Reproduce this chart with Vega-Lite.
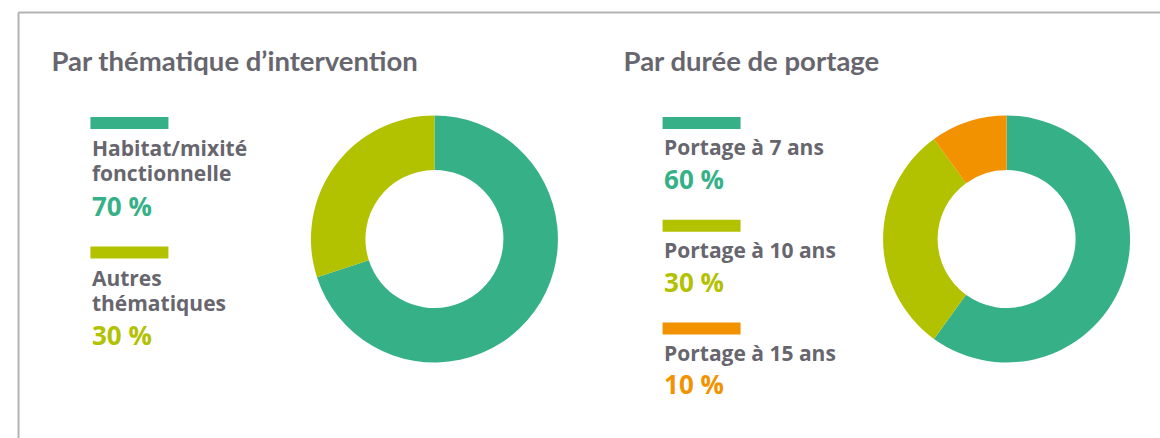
{
  "$schema": "https://vega.github.io/schema/vega-lite/v6.json",
  "autosize": {"type": "none"},
  "padding": {"left": 18, "top": 12, "right": 0, "bottom": 0},
  "width": 1142,
  "height": 426,
  "background": "#ffffff",
  "config": {"view": {"stroke": null}},
  "datasets": {
    "slices": [
      {"panel": "thematique", "category": "Habitat/mixité fonctionnelle", "rank": 1, "value": 70, "pct": "70 %"},
      {"panel": "thematique", "category": "Autres thématiques", "rank": 2, "value": 30, "pct": "30 %"},
      {"panel": "duree", "category": "Portage à 7 ans", "rank": 1, "value": 60, "pct": "60 %"},
      {"panel": "duree", "category": "Portage à 10 ans", "rank": 2, "value": 30, "pct": "30 %"},
      {"panel": "duree", "category": "Portage à 15 ans", "rank": 3, "value": 10, "pct": "10 %"}
    ],
    "titles": [
      {"panel": "thematique", "title": "Par thématique d’intervention"},
      {"panel": "duree", "title": "Par durée de portage"}
    ]
  },
  "resolve": {"scale": {"y": "independent"}, "axis": {"y": "independent"}},
  "layer": [
    {
      "data": {"name": "titles"},
      "mark": {"type": "text", "align": "left", "baseline": "alphabetic", "font": "Lato", "fontWeight": "bold", "fontSize": 27.5, "color": "#67666e", "xOffset": -251.5, "yOffset": -154},
      "encoding": {
        "x": {"field": "panel", "type": "nominal", "scale": {"type": "point", "domain": ["thematique", "duree"], "padding": 0.498}, "axis": {"orient": "top", "domain": true, "domainColor": "#b3b3b3", "domainWidth": 2, "labels": false, "ticks": false, "grid": false, "title": null}},
        "text": {"field": "title"}
      }
    },
    {
      "data": {"name": "slices"},
      "transform": [{"filter": "datum.panel == 'thematique'"}],
      "mark": {"type": "arc", "outerRadius": 123.5, "innerRadius": 69, "xOffset": 131.5, "yOffset": 14},
      "encoding": {
        "x": {"field": "panel", "type": "nominal", "scale": {"type": "point", "domain": ["thematique", "duree"], "padding": 0.498}, "axis": {"orient": "top", "domain": true, "domainColor": "#b3b3b3", "domainWidth": 2, "labels": false, "ticks": false, "grid": false, "title": null}},
        "theta": {"field": "value", "type": "quantitative", "stack": true},
        "order": {"field": "rank", "type": "quantitative"},
        "color": {"field": "category", "type": "nominal", "legend": null, "scale": {"domain": ["Habitat/mixité fonctionnelle", "Autres thématiques", "Portage à 7 ans", "Portage à 10 ans", "Portage à 15 ans"], "range": ["#36b187", "#b2c100", "#36b187", "#b2c100", "#f39200"]}}
      }
    },
    {
      "data": {"name": "slices"},
      "transform": [{"filter": "datum.panel == 'duree'"}],
      "mark": {"type": "arc", "outerRadius": 123.5, "innerRadius": 69, "xOffset": 131.5, "yOffset": 14},
      "encoding": {
        "x": {"field": "panel", "type": "nominal", "scale": {"type": "point", "domain": ["thematique", "duree"], "padding": 0.498}, "axis": {"orient": "top", "domain": true, "domainColor": "#b3b3b3", "domainWidth": 2, "labels": false, "ticks": false, "grid": false, "title": null}},
        "theta": {"field": "value", "type": "quantitative", "stack": true},
        "order": {"field": "rank", "type": "quantitative"},
        "color": {"field": "category", "type": "nominal", "legend": null}
      }
    },
    {
      "data": {"name": "slices"},
      "transform": [{"filter": "datum.panel == 'thematique'"}],
      "mark": {"type": "point", "shape": "M-39,-6H39V6H-39Z", "size": 4, "filled": true, "opacity": 1, "strokeWidth": 0, "xOffset": -173.5},
      "encoding": {
        "x": {"field": "panel", "type": "nominal", "scale": {"type": "point", "domain": ["thematique", "duree"], "padding": 0.498}, "axis": {"orient": "top", "domain": true, "domainColor": "#b3b3b3", "domainWidth": 2, "labels": false, "ticks": false, "grid": false, "title": null}},
        "y": {"field": "rank", "type": "quantitative", "scale": {"domain": [0.1429, 3.4325], "reverse": true, "nice": false, "zero": false}, "axis": {"orient": "left", "domain": true, "domainColor": "#b3b3b3", "domainWidth": 2, "labels": false, "ticks": false, "grid": false, "title": null}},
        "color": {"field": "category", "type": "nominal", "legend": null}
      }
    },
    {
      "data": {"name": "slices"},
      "transform": [{"filter": "datum.panel == 'thematique'"}],
      "mark": {"type": "text", "align": "left", "baseline": "alphabetic", "font": "Open Sans", "fontWeight": "bold", "fontSize": 21, "lineBreak": " ", "lineHeight": 25, "color": "#67666e", "xOffset": -211, "yOffset": 33.5},
      "encoding": {
        "x": {"field": "panel", "type": "nominal", "scale": {"type": "point", "domain": ["thematique", "duree"], "padding": 0.498}, "axis": {"orient": "top", "domain": true, "domainColor": "#b3b3b3", "domainWidth": 2, "labels": false, "ticks": false, "grid": false, "title": null}},
        "y": {"field": "rank", "type": "quantitative", "scale": {"domain": [0.1429, 3.4325], "reverse": true, "nice": false, "zero": false}, "axis": null},
        "text": {"field": "category"}
      }
    },
    {
      "data": {"name": "slices"},
      "transform": [{"filter": "datum.panel == 'thematique'"}],
      "mark": {"type": "text", "align": "left", "baseline": "alphabetic", "font": "Open Sans", "fontWeight": "bold", "fontSize": 26, "xOffset": -211, "yOffset": 93},
      "encoding": {
        "x": {"field": "panel", "type": "nominal", "scale": {"type": "point", "domain": ["thematique", "duree"], "padding": 0.498}, "axis": {"orient": "top", "domain": true, "domainColor": "#b3b3b3", "domainWidth": 2, "labels": false, "ticks": false, "grid": false, "title": null}},
        "y": {"field": "rank", "type": "quantitative", "scale": {"domain": [0.1429, 3.4325], "reverse": true, "nice": false, "zero": false}, "axis": null},
        "text": {"field": "pct"},
        "color": {"field": "category", "type": "nominal", "legend": null}
      }
    },
    {
      "data": {"name": "slices"},
      "transform": [{"filter": "datum.panel == 'duree'"}],
      "mark": {"type": "point", "shape": "M-39,-6H39V6H-39Z", "size": 4, "filled": true, "opacity": 1, "strokeWidth": 0, "xOffset": -173.5},
      "encoding": {
        "x": {"field": "panel", "type": "nominal", "scale": {"type": "point", "domain": ["thematique", "duree"], "padding": 0.498}, "axis": {"orient": "top", "domain": true, "domainColor": "#b3b3b3", "domainWidth": 2, "labels": false, "ticks": false, "grid": false, "title": null}},
        "y": {"field": "rank", "type": "quantitative", "scale": {"domain": [-0.0803, 4.066], "reverse": true, "nice": false, "zero": false}, "axis": null},
        "color": {"field": "category", "type": "nominal", "legend": null}
      }
    },
    {
      "data": {"name": "slices"},
      "transform": [{"filter": "datum.panel == 'duree'"}],
      "mark": {"type": "text", "align": "left", "baseline": "alphabetic", "font": "Open Sans", "fontWeight": "bold", "fontSize": 21, "color": "#67666e", "xOffset": -211, "yOffset": 32.5},
      "encoding": {
        "x": {"field": "panel", "type": "nominal", "scale": {"type": "point", "domain": ["thematique", "duree"], "padding": 0.498}, "axis": {"orient": "top", "domain": true, "domainColor": "#b3b3b3", "domainWidth": 2, "labels": false, "ticks": false, "grid": false, "title": null}},
        "y": {"field": "rank", "type": "quantitative", "scale": {"domain": [-0.0803, 4.066], "reverse": true, "nice": false, "zero": false}, "axis": null},
        "text": {"field": "category"}
      }
    },
    {
      "data": {"name": "slices"},
      "transform": [{"filter": "datum.panel == 'duree'"}],
      "mark": {"type": "text", "align": "left", "baseline": "alphabetic", "font": "Open Sans", "fontWeight": "bold", "fontSize": 26, "xOffset": -211, "yOffset": 66},
      "encoding": {
        "x": {"field": "panel", "type": "nominal", "scale": {"type": "point", "domain": ["thematique", "duree"], "padding": 0.498}, "axis": {"orient": "top", "domain": true, "domainColor": "#b3b3b3", "domainWidth": 2, "labels": false, "ticks": false, "grid": false, "title": null}},
        "y": {"field": "rank", "type": "quantitative", "scale": {"domain": [-0.0803, 4.066], "reverse": true, "nice": false, "zero": false}, "axis": null},
        "text": {"field": "pct"},
        "color": {"field": "category", "type": "nominal", "legend": null}
      }
    }
  ]
}
